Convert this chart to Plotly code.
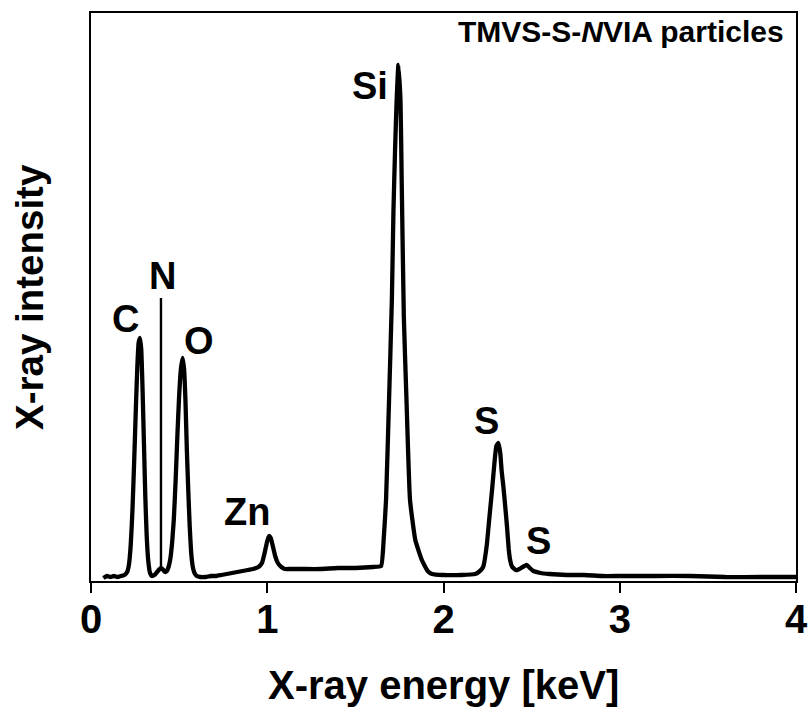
import plotly.graph_objects as go

# EDX spectrum of TMVS-S-NVIA particles (energy in keV, intensity in arbitrary units)
energy_kev = [
    0.07, 0.09, 0.11, 0.13, 0.15, 0.17, 0.19, 0.205, 0.215, 0.225, 0.235, 0.245,
    0.255, 0.263, 0.27, 0.278, 0.285, 0.292, 0.30, 0.308, 0.316, 0.325, 0.335,
    0.345, 0.36, 0.375, 0.39, 0.40, 0.41, 0.42, 0.43, 0.44, 0.45, 0.46, 0.47,
    0.48, 0.49, 0.50, 0.51, 0.52, 0.528, 0.536, 0.544, 0.552, 0.56, 0.57, 0.58,
    0.59, 0.60, 0.62, 0.65, 0.68, 0.71, 0.74, 0.77, 0.80, 0.83, 0.86, 0.89,
    0.92, 0.95, 0.97, 0.985, 1.0, 1.01, 1.02, 1.03, 1.045, 1.06, 1.08, 1.10,
    1.13, 1.20, 1.30, 1.40, 1.50, 1.60, 1.646, 1.66, 1.674, 1.691, 1.707,
    1.716, 1.725, 1.734, 1.744, 1.756, 1.763, 1.775, 1.79, 1.81, 1.84, 1.877,
    1.91, 1.935, 2.0, 2.1, 2.18, 2.20, 2.225, 2.245, 2.259, 2.277, 2.29, 2.30,
    2.312, 2.322, 2.33, 2.34, 2.35, 2.36, 2.37, 2.378, 2.39, 2.41, 2.42, 2.44,
    2.46, 2.473, 2.49, 2.51, 2.55, 2.60, 2.70, 2.80, 2.90, 3.0, 3.2, 3.4, 3.6,
    3.8, 4.0,
]
intensity = [
    3, 5, 4, 5, 4, 5, 6, 9, 16, 35, 70, 120,
    175, 215, 238, 243, 232, 195, 140, 85, 45, 20, 8,
    5, 6, 9, 12, 13, 11, 9, 10, 14, 22, 38, 62,
    100, 145, 185, 212, 223, 212, 180, 130, 90, 55, 25, 12,
    7, 5, 4, 4, 5, 5, 6, 7, 8, 9, 10, 11,
    12, 14, 18, 28, 40, 45, 43, 36, 25, 18, 14, 12,
    12, 12, 12, 13, 13, 14, 15, 40, 81, 181, 281,
    370, 430, 480, 516, 480, 398, 264, 181, 81, 41, 21,
    10, 7, 6, 6, 7, 9, 14, 35, 61, 94, 120, 135,
    138, 128, 110, 94, 75, 55, 32, 21, 14, 11, 11, 13,
    15, 16, 13, 10, 8, 7, 6, 6, 5, 5, 5, 5, 4,
    4, 4,
]

# Element labels placed next to their peaks
peak_labels = ["C", "N", "O", "Zn", "Si", "S", "S"]
label_energy = [0.196, 0.406, 0.613, 0.883, 1.583, 2.242, 2.54]
label_height = [262, 305, 240, 69, 495, 160, 40]

# Marker line for the weak N line
n_line_energy = 0.397
n_line_span = [14, 283]

font_family = "Liberation Sans, Arial, sans-serif"

fig = go.Figure()
fig.add_trace(go.Scatter(
    x=energy_kev, y=intensity, mode="lines",
    line=dict(color="black", width=4.3, shape="spline", smoothing=0.4),
    showlegend=False, hoverinfo="skip",
))
fig.add_trace(go.Scatter(
    x=[n_line_energy, n_line_energy], y=n_line_span, mode="lines",
    line=dict(color="black", width=2.4),
    showlegend=False, hoverinfo="skip",
))

for txt, ex, hy in zip(peak_labels, label_energy, label_height):
    fig.add_annotation(
        x=ex, y=hy, xref="x", yref="y", text=f"<b>{txt}</b>", showarrow=False,
        font=dict(family=font_family, size=38, color="black"),
        xanchor="center", yanchor="middle",
    )

fig.add_annotation(
    x=1.0, y=1.0, xref="paper", yref="paper", xshift=-10, yshift=0,
    text="<b>TMVS-S-<i>N</i>VIA particles</b>", showarrow=False,
    font=dict(family=font_family, size=30, color="black"),
    xanchor="right", yanchor="top",
)

fig.add_annotation(
    x=0.5, y=0, xref="paper", yref="paper", yshift=-104,
    text="<b>X-ray energy [keV]</b>", showarrow=False,
    font=dict(family=font_family, size=40, color="black"),
    xanchor="center", yanchor="middle",
)
fig.add_annotation(
    x=0, y=0.5, xref="paper", yref="paper", xshift=-62,
    text="<b>X-ray intensity</b>", showarrow=False, textangle=-90,
    font=dict(family=font_family, size=38.5, color="black"),
    xanchor="center", yanchor="middle",
)

fig.update_layout(
    width=811, height=709,
    margin=dict(l=91, r=15, t=13, b=128, autoexpand=False),
    paper_bgcolor="white", plot_bgcolor="white",
    xaxis=dict(
        range=[0, 4], tickvals=[0, 1, 2, 3, 4],
        ticktext=["<b>0</b>", "<b>1</b>", "<b>2</b>", "<b>3</b>", "<b>4</b>"],
        ticks="outside", ticklen=10, tickwidth=2, tickcolor="black",
        ticklabelstandoff=-8, automargin=False,
        showline=True, linecolor="black", linewidth=2, mirror=True,
        showgrid=False, zeroline=False,
        tickfont=dict(family=font_family, size=40, color="black"),
    ),
    yaxis=dict(
        range=[0, 568], showticklabels=False, ticks="", automargin=False,
        showline=True, linecolor="black", linewidth=2, mirror=True,
        showgrid=False, zeroline=False,
    ),
)

fig.write_html("out.html")
